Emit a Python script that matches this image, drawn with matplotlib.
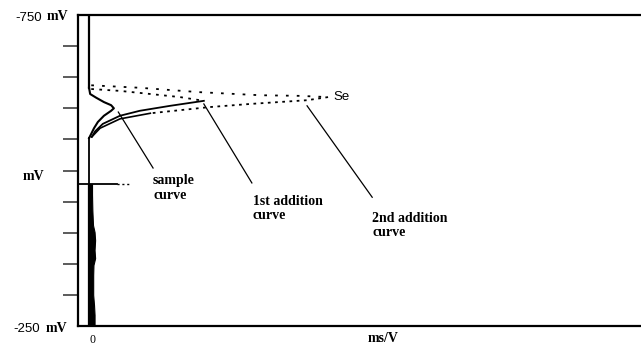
import matplotlib
matplotlib.use("Agg")
import matplotlib.pyplot as plt

# Potential axis (mV) and peak-current axis (ms/V, arbitrary scale)
y_limits = (-250, -750)
x_limits = (-0.2, 10.0)
y_ticks = [-700, -650, -600, -550, -500, -450, -400, -350, -300]

# Sample curve: single Se peak
sample_x = [0.00, 0.02, 0.13, 0.27, 0.40, 0.45, 0.40, 0.27, 0.16, 0.09, 0.04, 0.00]
sample_mv = [-633, -623, -617, -610, -605, -600, -596, -588, -578, -568, -559, -552]

# 1st addition: forward (upper) and return (lower) branches
add1_up_x = [0.04, 0.56, 1.11, 1.65, 2.08]
add1_up_mv = [-631, -628, -623, -618, -612]
add1_lo_x = [2.08, 1.47, 0.92, 0.56, 0.25, 0.11, 0.05]
add1_lo_mv = [-612, -604, -596, -588, -575, -563, -554]

# 2nd addition: forward (upper) and return (lower) branches
add2_up_x = [0.04, 0.92, 1.99, 3.10, 3.82, 4.33]
add2_up_mv = [-637, -633, -626, -621, -620, -618]
add2_lo_x = [4.33, 3.95, 2.92, 2.19, 1.11, 0.56, 0.20, 0.05]
add2_lo_mv = [-618, -613, -607, -602, -592, -583, -568, -554]

# Baseline trace below the peaks (left and right envelope)
trace_mv = [-478, -461, -436, -412, -401, -388, -372, -359, -348, -332, -316, -300, -284, -268, -251]
trace_left = [-0.02, -0.02, -0.02, -0.02, -0.02, -0.02, -0.02, -0.02, -0.02, -0.02, -0.02, -0.02, -0.02, -0.02, -0.02]
trace_right = [0.054, 0.054, 0.06, 0.072, 0.10, 0.11, 0.10, 0.11, 0.08, 0.075, 0.075, 0.075, 0.09, 0.10, 0.10]

serif_bold = dict(family="Liberation Serif", fontweight="bold", fontsize=10)
sans = dict(family="Liberation Sans", fontsize=9.5)

fig = plt.figure(figsize=(6.41, 3.45), dpi=100)
ax = fig.add_axes([78 / 641, 19 / 345, 563 / 641, 311 / 345])
ax.set_xlim(*x_limits)
ax.set_ylim(*y_limits)

for side in ("left", "bottom", "top"):
    ax.spines[side].set_linewidth(1.6)
ax.spines["right"].set_visible(False)

ax.set_yticks(y_ticks)
ax.set_yticklabels([])
ax.tick_params(axis="y", direction="out", length=11, width=1.2, color="0.25")
ax.set_xticks([])

# Baseline (zero current) above and between the peaks
ax.plot([0, 0], [-748, sample_mv[0]], color="black", lw=1.6)
ax.plot([0, 0], [sample_mv[-1], -478], color="black", lw=1.3)
ax.fill_betweenx(trace_mv, trace_left, trace_right, color="black", lw=0.8)
ax.plot([-0.2, 0.5], [-478, -478], color="black", lw=1.3)
ax.plot([0.5, 0.74], [-478, -478], color="black", lw=1.0, ls=(0, (1.5, 2)))

# Voltammetric curves
ax.plot(sample_x, sample_mv, color="black", lw=1.5)
ax.plot(add1_up_x, add1_up_mv, color="black", lw=1.3, ls=(0, (1.5, 3)))
ax.plot(add1_lo_x, add1_lo_mv, color="black", lw=1.3)
ax.plot(add2_up_x, add2_up_mv, color="black", lw=1.3, ls=(0, (1.5, 4.5)))
ax.plot(add2_lo_x[:5], add2_lo_mv[:5], color="black", lw=1.3, ls=(0, (1.5, 2.5)))
ax.plot(add2_lo_x[4:], add2_lo_mv[4:], color="black", lw=1.2)

# Peak label
ax.text(4.42, -618, "Se", va="center", ha="left", **sans)

# Leader lines and curve labels
ax.plot([0.53, 1.16], [-594, -504], color="black", lw=0.9)
ax.plot([2.08, 2.95], [-607, -480], color="black", lw=0.9)
ax.plot([3.95, 5.13], [-604, -457], color="black", lw=0.9)
ax.text(1.16, -494, "sample\ncurve", va="top", ha="left", linespacing=1.15, **serif_bold)
ax.text(2.97, -461, "1st addition\ncurve", va="top", ha="left", linespacing=1.15, **serif_bold)
ax.text(5.13, -434, "2nd addition\ncurve", va="top", ha="left", linespacing=1.15, **serif_bold)

# Axis labels
fig.text(42 / 641, 1 - 18 / 345, "-750", ha="right", va="center", **sans)
fig.text(47 / 641, 1 - 17 / 345, "mV", ha="left", va="center", **serif_bold)
fig.text(40 / 641, 1 - 329 / 345, "-250", ha="right", va="center", **sans)
fig.text(46 / 641, 1 - 328 / 345, "mV", ha="left", va="center", **serif_bold)
fig.text(33 / 641, 1 - 177 / 345, "mV", ha="center", va="center", **serif_bold)
fig.text(93 / 641, 1 - 340 / 345, "0", ha="center", va="center", family="Liberation Serif", fontsize=8.5)
fig.text(383 / 641, 1 - 338 / 345, "ms/V", ha="center", va="center", **serif_bold)

fig.savefig("out.png", dpi=100)
